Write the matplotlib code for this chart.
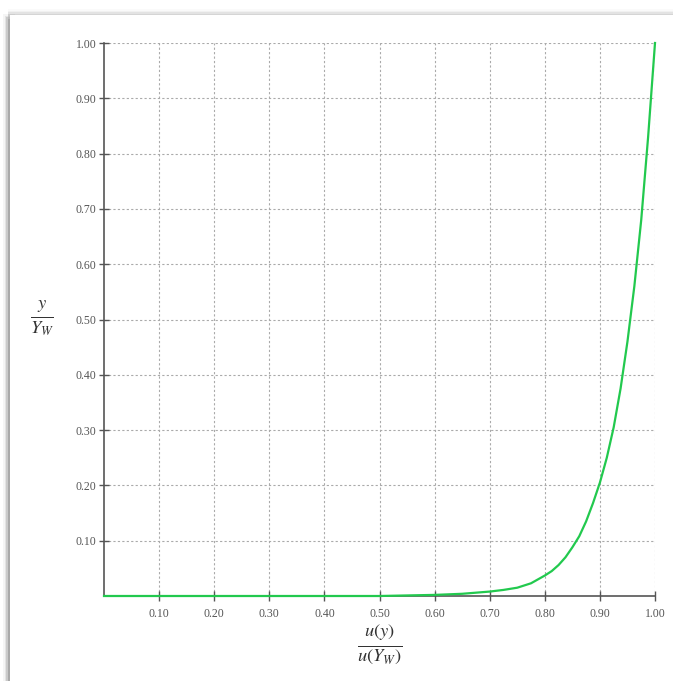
"""Dimensionless profile y/Y_W against u(y)/u(Y_W)."""

import matplotlib

matplotlib.use("Agg")
import matplotlib.pyplot as plt
from matplotlib.patches import Rectangle

plt.rcParams["mathtext.fontset"] = "stix"

# values
u_ratio = [0.0, 0.5, 0.55, 0.6, 0.65, 0.7, 0.725, 0.75, 0.775, 0.8, 0.8125,
           0.825, 0.8375, 0.85, 0.8625, 0.875, 0.8875, 0.9, 0.9125, 0.925,
           0.9375, 0.95, 0.9625, 0.975, 0.9875, 1.0]
y_ratio = [0.0, 0.0, 0.001, 0.002, 0.004, 0.008, 0.011, 0.015, 0.023, 0.037,
           0.045, 0.056, 0.07, 0.088, 0.108, 0.135, 0.168, 0.205, 0.25, 0.305,
           0.375, 0.46, 0.56, 0.68, 0.83, 1.0]
tick_values = [0.1, 0.2, 0.3, 0.4, 0.5, 0.6, 0.7, 0.8, 0.9, 1.0]
tick_labels = ["0.10", "0.20", "0.30", "0.40", "0.50", "0.60", "0.70",
               "0.80", "0.90", "1.00"]

fig = plt.figure(figsize=(6.73, 6.81), dpi=100)

# card shadow on left and top
for i, a in enumerate([0.04, 0.07, 0.11, 0.16]):
    fig.patches.append(Rectangle((3 / 673 + i * 1.6 / 673, 0), 12 / 673, (667 - i * 1.5) / 681,
                                 transform=fig.transFigure, facecolor="black", alpha=a,
                                 edgecolor="none", zorder=0))
    fig.patches.append(Rectangle((8 / 673, (667 - i * 1.5) / 681), 1, 5 / 681,
                                 transform=fig.transFigure, facecolor="black", alpha=a * 0.5,
                                 edgecolor="none", zorder=0))
fig.patches.append(Rectangle((10 / 673, 0), 1, 666 / 681, transform=fig.transFigure,
                             facecolor="white", edgecolor="none", zorder=1))

ax = fig.add_axes([104 / 673, 1 - 596 / 681, 551 / 673, 553 / 681])
ax.set_facecolor("white")
ax.set_zorder(2)

ax.plot(u_ratio, y_ratio, color="#22c94e", lw=1.6, zorder=3, clip_on=False)

ax.set_xlim(0, 1)
ax.set_ylim(0, 1)
ax.set_xticks(tick_values)
ax.set_xticklabels(tick_labels)
ax.set_yticks(tick_values)
ax.set_yticklabels(tick_labels)

for lab in ax.get_xticklabels() + ax.get_yticklabels():
    lab.set_fontfamily("Liberation Serif")
    lab.set_fontsize(8.5)
    lab.set_color("#555555")

ax.tick_params(axis="both", direction="inout", length=7, width=1, color="#555555")
ax.tick_params(axis="x", pad=5)
ax.tick_params(axis="y", pad=2)

ax.grid(True, color="#aaaaaa", linestyle=(0, (2, 2)), linewidth=0.8)
for side in ["top", "right"]:
    ax.spines[side].set_visible(False)
for side in ["left", "bottom"]:
    ax.spines[side].set_color("#555555")
    ax.spines[side].set_linewidth(1.2)

fig.text(42 / 673, 1 - 318 / 681, r"$\frac{y}{Y_W}$", fontsize=19,
         ha="center", va="center", color="#333333")
fig.text(380 / 673, 1 - 645 / 681, r"$\frac{u(y)}{u(Y_W)}$", fontsize=19,
         ha="center", va="center", color="#333333")

fig.savefig("out.png", dpi=100, facecolor="white")
